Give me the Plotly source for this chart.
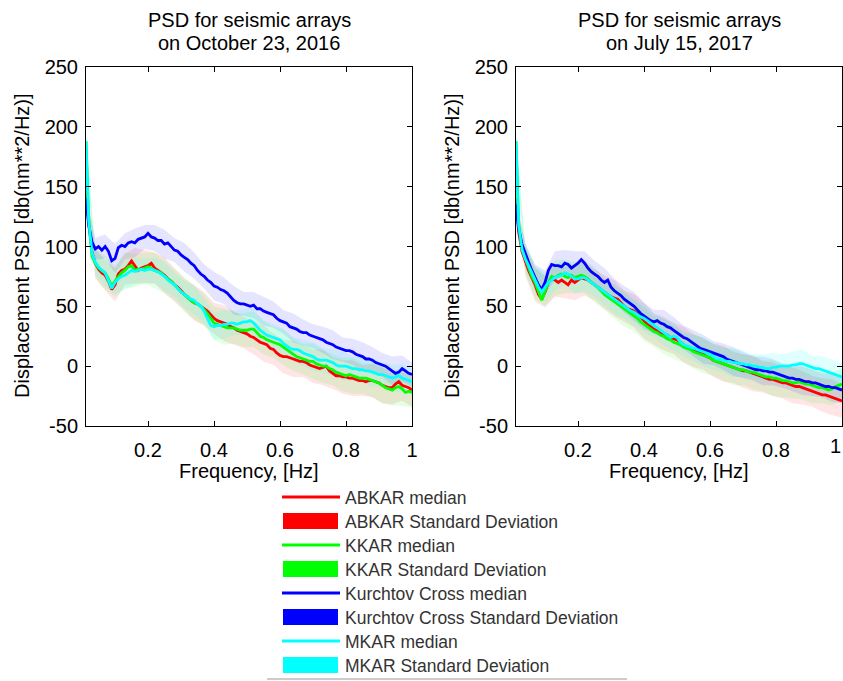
import plotly.graph_objects as go

# ---------------- data ----------------
freq = [0.012, 0.02, 0.03, 0.04, 0.05, 0.06, 0.07, 0.08, 0.09, 0.10,
        0.11, 0.12, 0.13, 0.14, 0.15, 0.16, 0.17, 0.18, 0.19, 0.20,
        0.21, 0.22, 0.23, 0.24, 0.25, 0.26, 0.27, 0.28, 0.29, 0.30,
        0.31, 0.32, 0.33, 0.34, 0.35, 0.36, 0.37, 0.38, 0.39, 0.40,
        0.41, 0.42, 0.43, 0.44, 0.45, 0.46, 0.47, 0.48, 0.49, 0.50,
        0.51, 0.52, 0.53, 0.54, 0.55, 0.56, 0.57, 0.58, 0.59, 0.60,
        0.61, 0.62, 0.63, 0.64, 0.65, 0.66, 0.67, 0.68, 0.69, 0.70,
        0.71, 0.72, 0.73, 0.74, 0.75, 0.76, 0.77, 0.78, 0.79, 0.80,
        0.81, 0.82, 0.83, 0.84, 0.85, 0.86, 0.87, 0.88, 0.89, 0.90,
        0.91, 0.92, 0.93, 0.94, 0.95, 0.96, 0.97, 0.98, 0.99, 1.00]

# October 23, 2016 medians
oct_abkar = [150, 120, 96, 86, 81, 78, 76, 71, 64, 68,
             77, 80, 81, 84, 88, 84, 80, 82, 83, 84,
             86, 82, 80, 78, 76, 73, 71, 68, 66, 63,
             60, 58, 55, 53, 52, 50, 48, 46, 43, 40,
             38, 37, 36, 35, 33, 32, 30, 29, 28, 27,
             25, 24, 22, 20, 19, 18, 15, 14, 11, 9,
             8, 8, 7, 6, 5, 4, 4, 3, 1, 0,
             -1, -2, -1, 0, -4, -6, -8, -8, -9, -9,
             -10, -10, -11, -12, -12, -13, -12, -12, -13, -14,
             -16, -17, -18, -18, -15, -13, -16, -17, -18, -20]
oct_kkar = [188, 125, 92, 86, 82, 80, 78, 73, 67, 71,
            75, 78, 80, 83, 84, 80, 81, 81, 82, 83,
            82, 80, 79, 78, 75, 73, 71, 68, 65, 62,
            60, 57, 55, 53, 52, 50, 47, 44, 40, 36,
            35, 34, 33, 32, 32, 32, 31, 30, 30, 30,
            31, 31, 28, 25, 24, 22, 21, 20, 19, 18,
            16, 14, 12, 10, 8, 7, 6, 5, 4, 4,
            2, 1, 0, 0, -2, -3, -5, -6, -7, -8,
            -7, -8, -9, -10, -10, -10, -11, -12, -13, -14,
            -16, -18, -19, -20, -18, -17, -19, -22, -21, -22]
oct_kurchtov = [140, 118, 104, 98, 100, 97, 100, 96, 88, 90,
                99, 101, 100, 103, 104, 103, 106, 107, 108, 111,
                108, 107, 105, 105, 102, 103, 100, 97, 96, 93,
                91, 89, 86, 84, 80, 77, 75, 72, 70, 67,
                66, 64, 63, 61, 58, 55, 53, 52, 52, 51,
                50, 51, 48, 48, 46, 45, 44, 43, 40, 38,
                37, 36, 33, 32, 31, 29, 28, 28, 26, 25,
                24, 23, 22, 20, 19, 18, 16, 15, 14, 13,
                13, 12, 10, 9, 8, 6, 6, 5, 3, 2,
                1, 0, -2, -4, -6, -5, -2, -4, -6, -7]
oct_mkar = [188, 122, 95, 87, 83, 80, 78, 72, 65, 70,
            73, 75, 76, 78, 80, 79, 80, 81, 80, 81,
            81, 80, 79, 77, 75, 72, 70, 68, 65, 62,
            60, 58, 56, 55, 52, 50, 46, 40, 34, 33,
            34, 34, 35, 35, 36, 36, 35, 36, 37, 37,
            38, 36, 33, 30, 28, 26, 25, 24, 23, 22,
            19, 17, 15, 14, 14, 13, 11, 10, 9, 8,
            6, 5, 5, 5, 4, 3, 1, 0, 0, 0,
            -1, -2, -2, -3, -3, -4, -4, -5, -6, -7,
            -7, -8, -9, -10, -9, -8, -10, -11, -12, -13]

# July 15, 2017 medians
jul_abkar = [140, 112, 96, 88, 80, 74, 68, 60, 56, 62,
             70, 73, 72, 70, 72, 70, 68, 72, 70, 72,
             74, 73, 72, 70, 68, 66, 64, 62, 60, 58,
             57, 56, 53, 50, 48, 47, 46, 44, 41, 38,
             35, 33, 31, 30, 28, 27, 26, 24, 23, 22,
             20, 18, 16, 15, 13, 12, 11, 10, 8, 7,
             5, 4, 3, 2, 1, 0, -1, -2, -3, -4,
             -4, -5, -6, -7, -8, -9, -10, -11, -11, -12,
             -13, -14, -14, -15, -16, -17, -17, -18, -19, -20,
             -21, -22, -23, -24, -24, -25, -26, -27, -28, -29]
jul_kkar = [188, 120, 98, 90, 82, 75, 70, 62, 55, 63,
            70, 75, 74, 76, 77, 75, 74, 76, 74, 75,
            76, 75, 73, 70, 68, 66, 63, 60, 58, 56,
            54, 52, 50, 48, 46, 44, 42, 40, 37, 35,
            33, 31, 29, 28, 26, 25, 23, 22, 20, 19,
            18, 16, 15, 14, 12, 11, 10, 9, 8, 7,
            5, 4, 3, 2, 1, 0, -1, -2, -3, -3,
            -4, -5, -5, -6, -7, -8, -9, -9, -10, -10,
            -11, -12, -12, -13, -14, -14, -13, -14, -15, -15,
            -16, -17, -18, -18, -19, -20, -19, -17, -16, -15]
jul_kurchtov = [135, 115, 102, 94, 87, 80, 74, 68, 64, 70,
                80, 85, 84, 84, 83, 86, 85, 82, 84, 86,
                89, 86, 82, 79, 77, 75, 72, 70, 72, 66,
                63, 61, 59, 56, 54, 52, 50, 47, 44, 42,
                40, 38, 37, 38, 36, 35, 33, 32, 30, 28,
                26, 24, 23, 21, 19, 17, 15, 14, 13, 12,
                11, 10, 9, 8, 6, 5, 4, 3, 2, 1,
                0, -1, -2, -3, -3, -4, -4, -5, -5, -6,
                -7, -8, -9, -10, -10, -11, -11, -12, -13, -13,
                -14, -14, -15, -16, -17, -17, -18, -18, -19, -20]
jul_mkar = [188, 118, 98, 90, 84, 78, 72, 66, 62, 66,
            70, 72, 74, 75, 76, 78, 77, 75, 73, 73,
            74, 74, 72, 70, 68, 66, 64, 62, 60, 58,
            56, 54, 52, 50, 48, 46, 45, 43, 41, 40,
            38, 36, 34, 32, 30, 28, 26, 24, 25, 24,
            20, 18, 17, 16, 15, 14, 13, 12, 11, 10,
            8, 6, 6, 5, 4, 4, 3, 3, 2, 2,
            1, 1, 0, 0, -1, -1, -2, -2, -1, -1,
            0, 0, 0, 0, 1, 1, 2, 2, 1, 0,
            -1, -2, -2, -3, -4, -5, -6, -7, -8, -9]

# standard deviations, sampled at every 3rd frequency (freq[::3])
oct_abkar_sd = [4, 12, 13, 14, 13, 15, 14, 13, 15, 14, 13, 15, 14, 13, 15, 14, 13,
                14, 15, 13, 14, 15, 13, 14, 15, 13, 14, 15, 13, 14, 15, 14, 13, 14]
oct_kkar_sd = [4, 13, 14, 13, 15, 14, 13, 15, 14, 13, 15, 14, 13, 14, 15, 13, 14,
               15, 14, 13, 15, 14, 13, 15, 14, 13, 14, 15, 13, 14, 15, 13, 14, 13]
oct_kurchtov_sd = [4, 9, 10, 12, 11, 12, 10, 11, 12, 10, 12, 11, 10, 12, 11, 12, 10,
                   11, 12, 11, 10, 12, 11, 10, 11, 12, 10, 11, 12, 11, 10, 12, 11, 10]
oct_mkar_sd = [4, 10, 11, 10, 12, 11, 10, 11, 12, 10, 11, 12, 10, 11, 12, 10, 11,
               12, 10, 11, 12, 10, 11, 12, 10, 11, 12, 10, 11, 12, 10, 11, 12, 11]
jul_abkar_sd = [4, 12, 14, 13, 14, 13, 15, 14, 13, 14, 15, 13, 14, 15, 13, 14, 13,
                15, 14, 13, 14, 15, 13, 14, 15, 13, 14, 13, 15, 14, 13, 14, 15, 14]
jul_kkar_sd = [4, 13, 14, 13, 15, 14, 13, 14, 15, 13, 14, 15, 13, 14, 13, 15, 14,
               13, 14, 15, 13, 14, 15, 13, 14, 13, 15, 14, 13, 14, 15, 13, 14, 13]
jul_kurchtov_sd = [4, 9, 11, 10, 12, 11, 12, 10, 11, 12, 10, 11, 12, 11, 10, 12, 11,
                   10, 11, 12, 10, 11, 12, 11, 10, 12, 11, 10, 11, 12, 11, 10, 12, 11]
jul_mkar_sd = [4, 10, 11, 12, 11, 10, 12, 11, 10, 11, 12, 10, 11, 12, 10, 11, 12,
               10, 11, 12, 11, 10, 12, 11, 10, 11, 12, 10, 11, 12, 10, 11, 12, 11]

arrays = ["ABKAR", "KKAR", "Kurchtov Cross", "MKAR"]
colors = ["#ff0000", "#00ff00", "#0000ff", "#00ffff"]
band_colors = ["rgba(255,0,0,0.10)", "rgba(0,255,0,0.10)",
               "rgba(0,0,255,0.10)", "rgba(0,255,255,0.12)"]

panels = [
    ("PSD for seismic arrays", "on October 23, 2016",
     [oct_abkar, oct_kkar, oct_kurchtov, oct_mkar],
     [oct_abkar_sd, oct_kkar_sd, oct_kurchtov_sd, oct_mkar_sd]),
    ("PSD for seismic arrays", "on July 15, 2017",
     [jul_abkar, jul_kkar, jul_kurchtov, jul_mkar],
     [jul_abkar_sd, jul_kkar_sd, jul_kurchtov_sd, jul_mkar_sd]),
]

xtick_vals = [0.2, 0.4, 0.6, 0.8, 1.0]
xtick_text = ["0.2", "0.4", "0.6", "0.8", "1"]
ytick_vals = [-50, 0, 50, 100, 150, 200, 250]
ytick_text = ["-50", "0", "50", "100", "150", "200", "250"]

# ---------------- layout helpers ----------------
W, H = 843, 681
def px(x):
    return x / W
def py(y):
    return 1 - y / H

FONT = "Liberation Sans, Arial, sans-serif"
plot_boxes = [(86, 412), (516, 842)]
top_px, bot_px = 67, 426

fig = go.Figure()

for pi, (t1, t2, meds, sds) in enumerate(panels):
    xa = "x" if pi == 0 else "x2"
    ya = "y" if pi == 0 else "y2"
    fb = freq[::3]
    for k in range(4):
        mb = meds[k][::3]
        upper = [m + s for m, s in zip(mb, sds[k])]
        lower = [m - s for m, s in zip(mb, sds[k])]
        fig.add_trace(go.Scatter(
            x=fb + fb[::-1], y=upper + lower[::-1],
            fill="toself", fillcolor=band_colors[k],
            line=dict(width=0), mode="lines", hoverinfo="skip",
            showlegend=False, xaxis=xa, yaxis=ya))
    for k in range(4):
        fig.add_trace(go.Scatter(
            x=freq, y=meds[k], mode="lines",
            line=dict(color=colors[k], width=2.8),
            showlegend=False, xaxis=xa, yaxis=ya))

# legend entries: one small legend per row so rows sit exactly like the reference
row_y = [497, 521, 545, 569, 593, 617, 641, 665]
legend_layouts = {}
shapes = []
for k in range(4):
    for j, suffix in enumerate([" median", " Standard Deviation"]):
        idx = 2 * k + j
        lname = "legend" if idx == 0 else "legend%d" % (idx + 1)
        lcolor = colors[k] if j == 0 else "rgba(0,0,0,0)"
        fig.add_trace(go.Scatter(
            x=[None], y=[None], mode="lines", name=arrays[k] + suffix,
            line=dict(color=lcolor, width=3), showlegend=True,
            legend=lname))
        legend_layouts[lname] = dict(
            x=px(277), y=py(row_y[idx]), xanchor="left", yanchor="middle",
            bgcolor="rgba(255,255,255,0)", borderwidth=0, itemwidth=58,
            font=dict(family=FONT, size=17.5, color="#333333"))
        if j == 1:
            # filled swatch for the standard-deviation entries
            shapes.append(dict(type="rect", xref="paper", yref="paper",
                               x0=px(283), x1=px(338),
                               y0=py(row_y[idx] + 8), y1=py(row_y[idx] - 8),
                               fillcolor=colors[k], line=dict(width=0), layer="above"))

axis_common = dict(
    showline=True, linecolor="black", linewidth=1, mirror="ticks",
    ticks="inside", ticklen=5, tickcolor="black", showgrid=False,
    zeroline=False, automargin=False,
    tickfont=dict(family=FONT, size=20, color="black"))

for pi, (l, r) in enumerate(plot_boxes):
    sfx = "" if pi == 0 else "2"
    fig.layout["xaxis" + sfx] = dict(
        axis_common, domain=[px(l), px(r)], range=[0.012, 1.0],
        tickvals=xtick_vals, ticktext=xtick_text, ticklabelstandoff=6,
        anchor="y" + sfx)
    fig.layout["yaxis" + sfx] = dict(
        axis_common, domain=[py(bot_px), py(top_px)], range=[-50, 250],
        tickvals=ytick_vals, ticktext=ytick_text, ticklabelstandoff=3,
        anchor="x" + sfx)

annotations = []
for pi, (l, r) in enumerate(plot_boxes):
    cx = (l + r) / 2
    annotations.append(dict(text=panels[pi][0], x=px(cx), y=py(20), xref="paper", yref="paper",
                            showarrow=False, xanchor="center", yanchor="middle",
                            font=dict(family=FONT, size=20, color="black")))
    annotations.append(dict(text=panels[pi][1], x=px(cx), y=py(43), xref="paper", yref="paper",
                            showarrow=False, xanchor="center", yanchor="middle",
                            font=dict(family=FONT, size=20, color="black")))
    annotations.append(dict(text="Frequency, [Hz]", x=px(cx), y=py(471), xref="paper", yref="paper",
                            showarrow=False, xanchor="center", yanchor="middle",
                            font=dict(family=FONT, size=20, color="black")))
    annotations.append(dict(text="Displacement PSD [db(nm**2/Hz)]", x=px(l - 64), y=py(246),
                            xref="paper", yref="paper", textangle=-90,
                            showarrow=False, xanchor="center", yanchor="middle",
                            font=dict(family=FONT, size=20, color="black")))
# the last x tick label of the right panel sits on the page edge; keep it visible
annotations.append(dict(text=xtick_text[-1], x=1.0, y=py(446), xref="paper", yref="paper",
                        showarrow=False, xanchor="right", yanchor="middle",
                        font=dict(family=FONT, size=20, color="black")))

shapes.append(dict(type="line", xref="paper", yref="paper",
                   x0=px(267), x1=px(627), y0=py(679), y1=py(679),
                   line=dict(color="#999999", width=1)))

fig.update_layout(
    width=W, height=H,
    margin=dict(l=0, r=0, t=0, b=0, autoexpand=False),
    paper_bgcolor="white", plot_bgcolor="white",
    annotations=annotations,
    showlegend=True,
    shapes=shapes,
    **legend_layouts,
)

fig.write_html("out.html")
